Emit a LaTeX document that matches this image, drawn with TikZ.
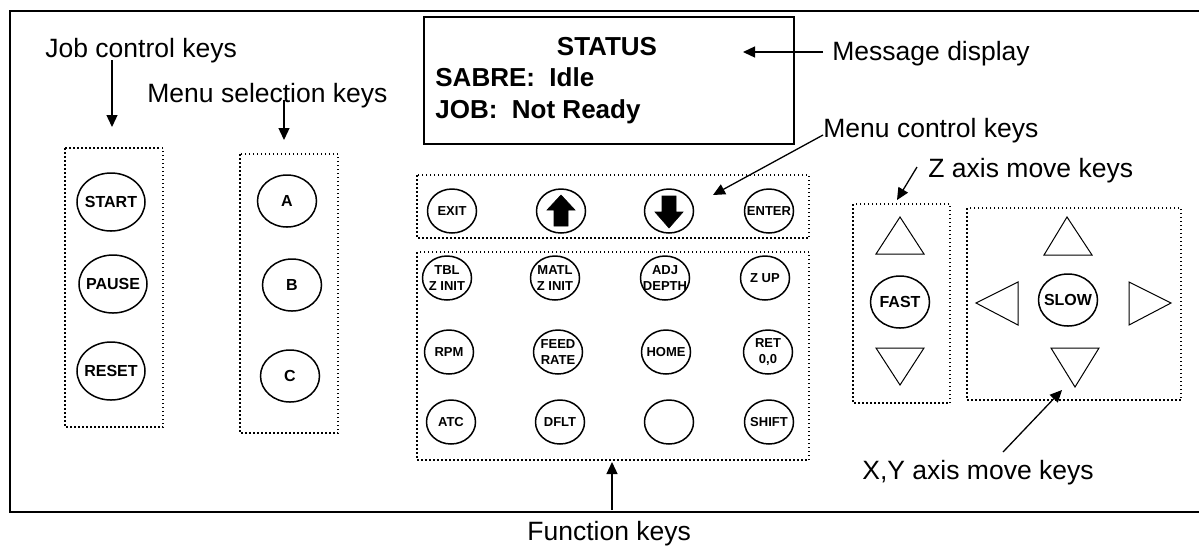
\documentclass[tikz,border=0pt]{standalone}
\usepackage{fontspec}
\setmainfont{Liberation Sans}
\usetikzlibrary{shapes.geometric,arrows.meta}
\begin{document}
\begin{tikzpicture}[x=0.5pt,y=-0.5pt,
  bigkey/.style={ellipse,draw,line width=0.75pt,inner sep=0pt,minimum width=34pt,minimum height=29pt},
  midkey/.style={ellipse,draw,line width=0.75pt,inner sep=0pt,minimum width=29.5pt,minimum height=26pt},
  fkey/.style={ellipse,draw,line width=0.75pt,inner sep=0pt,minimum width=24.5pt,minimum height=22pt},
  keylab/.style={font=\bfseries\fontsize{8}{9}\selectfont,inner sep=0pt},
  flab/.style={font=\bfseries\fontsize{6.5}{7.6}\selectfont,align=center,inner sep=0pt},
  callout/.style={font=\fontsize{13.25}{15}\selectfont,anchor=base west,inner sep=0pt},
  disptext/.style={font=\bfseries\fontsize{13}{15}\selectfont,inner sep=0pt},
  arr/.style={line width=0.65pt,-{Triangle[length=6pt,width=5.5pt]}},
  dotbox/.style={draw,line width=0.75pt,dash pattern=on 0.75pt off 1.25pt},
  tri/.style={draw,line width=0.5pt,line join=miter},
  blk/.style={fill=black,draw=black,line width=0.3pt}]
\useasboundingbox (0,0) rectangle (1199,548);
% outer frame (open on the right)
\draw[line width=1.2pt] (1199,11) -- (10,11) -- (10,512) -- (1199,512);

% message display
\node[draw,line width=0.75pt,minimum width=185pt,minimum height=63.5pt,inner sep=0pt] (disp) at (609,80.5) {};
\node[disptext,anchor=base] (status) at (607,55) {STATUS};
\node[disptext,anchor=base west] (sabre) at (435,86) {SABRE:\ \ Idle};
\node[disptext,anchor=base west] (job) at (435,118) {JOB:\ \ Not Ready};

% dotted groups
\draw[dotbox] (65,148) rectangle (163,427);
\draw[dotbox] (240,154) rectangle (338,433);
\draw[dotbox] (417,175) rectangle (809,238);
\draw[dotbox] (417,252) rectangle (809,460);
\draw[dotbox] (853,204) rectangle (950,403);
\draw[dotbox] (967,208) rectangle (1181,400);

% job control keys
\node[bigkey,label={[keylab]center:START}] (start) at (111,202) {};
\node[bigkey,label={[keylab]center:PAUSE}] (pause) at (113,284) {};
\node[bigkey,label={[keylab]center:RESET}] (reset) at (111,371) {};
% menu selection keys
\node[midkey,label={[keylab]center:A}] (ka) at (287,201) {};
\node[midkey,label={[keylab]center:B}] (kb) at (292,285) {};
\node[midkey,label={[keylab]center:C}] (kc) at (290,376) {};

% menu control keys
\node[fkey,label={[flab]center:EXIT}] (exit) at (452,211) {};
\node[fkey] (up) at (561,211) {};
\node[fkey] (down) at (669,211) {};
\node[fkey,label={[flab]center:ENTER}] (enter) at (769,211) {};
\draw[blk] (561,195) -- (575,210) -- (568,210) -- (568,226) -- (554,226) -- (554,210) -- (547,210) -- cycle;
\draw[blk] (669,228) -- (655,212) -- (662,212) -- (662,196) -- (676,196) -- (676,212) -- (683,212) -- cycle;

% function keys
\node[fkey,label={[flab]center:{TBL\\Z INIT}}] (tbl) at (447,278) {};
\node[fkey,label={[flab]center:{MATL\\Z INIT}}] (matl) at (555,278) {};
\node[fkey,label={[flab]center:{ADJ\\DEPTH}}] (adj) at (665,278) {};
\node[fkey,label={[flab]center:Z UP}] (zup) at (765,278) {};
\node[fkey,label={[flab]center:RPM}] (rpm) at (449,352) {};
\node[fkey,label={[flab]center:{FEED\\RATE}}] (feed) at (558,352) {};
\node[fkey,label={[flab]center:HOME}] (home) at (666,352) {};
\node[fkey,label={[flab]center:{RET\\0,0}}] (ret) at (768,352) {};
\node[fkey,label={[flab]center:ATC}] (atc) at (451,422) {};
\node[fkey,label={[flab]center:DFLT}] (dflt) at (560,422) {};
\node[fkey] (blank) at (669,422) {};
\node[fkey,label={[flab]center:SHIFT}] (shift) at (769,422) {};

% Z axis keys
\draw[tri] (900,217) -- (924,254) -- (876,254) -- cycle;
\node[midkey,label={[keylab]center:FAST}] (fast) at (900,302) {};
\draw[tri] (876,348) -- (924,348) -- (900,385) -- cycle;
% X,Y axis keys
\draw[tri] (1067,217) -- (1092,255) -- (1044,255) -- cycle;
\node[midkey,label={[keylab]center:SLOW}] (slow) at (1068,300) {};
\draw[tri] (1051,348) -- (1099,348) -- (1075,387) -- cycle;
\draw[tri] (976,303) -- (1018,282) -- (1018,325) -- cycle;
\draw[tri] (1171,303) -- (1129,282) -- (1129,325) -- cycle;

% callout labels
\node[callout] (ljob) at (45,57) {Job control keys};
\node[callout] (lmenu) at (147,102) {Menu selection keys};
\node[callout] (lmsg) at (832,60) {Message display};
\node[callout] (lmctl) at (823,137) {Menu control keys};
\node[callout] (lz) at (928,177) {Z axis move keys};
\node[callout] (lxy) at (862,479) {X,Y axis move keys};
\node[callout] (lfn) at (527,540) {Function keys};

% callout arrows
\coordinate (a1s) at (112,60);   \coordinate (a1t) at (112,127);
\coordinate (a2s) at (284,100);  \coordinate (a2t) at (284,140);
\coordinate (a3s) at (823,52);   \coordinate (a3t) at (743,52);
\coordinate (a4s) at (823,135);  \coordinate (a4t) at (713,195);
\coordinate (a5s) at (917,167);  \coordinate (a5t) at (897,200);
\coordinate (a6s) at (1003,452); \coordinate (a6t) at (1062,390);
\coordinate (a7s) at (612,510);  \coordinate (a7t) at (612,462);
\draw[arr] (a1s) -- (a1t);
\draw[arr] (a2s) -- (a2t);
\draw[arr] (a3s) -- (a3t);
\draw[arr] (a4s) -- (a4t);
\draw[arr] (a5s) -- (a5t);
\draw[arr] (a6s) -- (a6t);
\draw[arr] (a7s) -- (a7t);
\end{tikzpicture}
\end{document}
